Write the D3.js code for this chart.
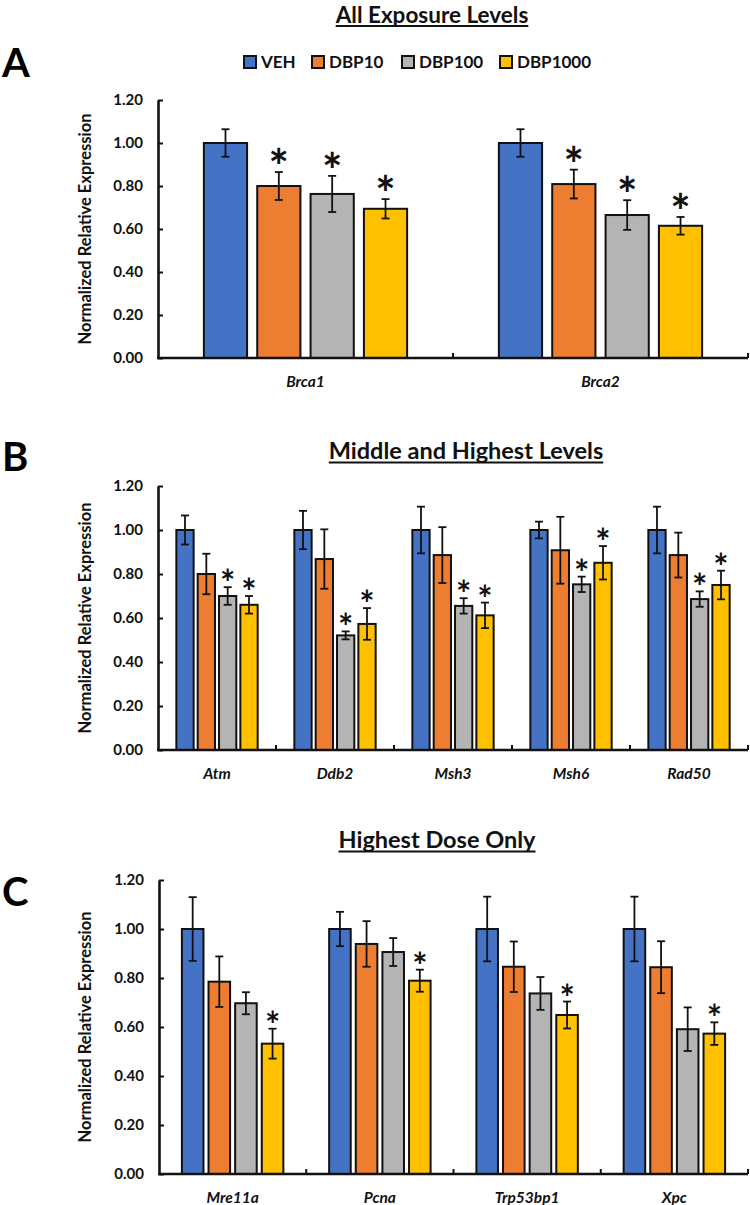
<!DOCTYPE html>
<html>
<head>
<meta charset="utf-8">
<script src="https://cdn.jsdelivr.net/npm/d3@7"></script>
<style>
  html, body { margin: 0; padding: 0; background: #fff; }
  svg { display: block; font-family: Lato, "Open Sans", sans-serif; }
</style>
</head>
<body>
<svg id="chart" width="750" height="1205"></svg>
<script>
// ---------- DATA ----------
const seriesNames = ["VEH", "DBP10", "DBP100", "DBP1000"];
const seriesColors = ["#4472C4", "#ED7D31", "#B4B4B4", "#FFC000"];
const yTickValues = [0, 0.2, 0.4, 0.6, 0.8, 1.0, 1.2];
const yTickLabels = ["0.00", "0.20", "0.40", "0.60", "0.80", "1.00", "1.20"];

// Panel A: All Exposure Levels
const genesA = ["Brca1", "Brca2"];
const meansA = [[1.00, 0.800, 0.763, 0.694], [1.00, 0.809, 0.665, 0.615]];
const errA   = [[0.064, 0.065, 0.084, 0.045], [0.064, 0.067, 0.069, 0.041]];
const sigA   = [[0, 1, 1, 1], [0, 1, 1, 1]];

// Panel B: Middle and Highest Levels
const genesB = ["Atm", "Ddb2", "Msh3", "Msh6", "Rad50"];
const meansB = [
  [1.00, 0.800, 0.700, 0.660],
  [1.00, 0.868, 0.521, 0.573],
  [1.00, 0.886, 0.655, 0.612],
  [1.00, 0.908, 0.753, 0.851],
  [1.00, 0.886, 0.686, 0.750]
];
const errB = [
  [0.066, 0.092, 0.040, 0.040],
  [0.087, 0.135, 0.018, 0.072],
  [0.106, 0.127, 0.035, 0.058],
  [0.038, 0.152, 0.035, 0.076],
  [0.106, 0.102, 0.035, 0.065]
];
const sigB = [
  [0, 0, 1, 1],
  [0, 0, 1, 1],
  [0, 0, 1, 1],
  [0, 0, 1, 1],
  [0, 0, 1, 1]
];

// Panel C: Highest Dose Only
const genesC = ["Mre11a", "Pcna", "Trp53bp1", "Xpc"];
const meansC = [
  [1.00, 0.785, 0.697, 0.532],
  [1.00, 0.939, 0.906, 0.789],
  [1.00, 0.846, 0.737, 0.649],
  [1.00, 0.844, 0.591, 0.573]
];
const errC = [
  [0.130, 0.103, 0.045, 0.061],
  [0.070, 0.093, 0.057, 0.045],
  [0.132, 0.103, 0.067, 0.055],
  [0.132, 0.106, 0.089, 0.046]
];
const sigC = [
  [0, 0, 0, 1],
  [0, 0, 0, 1],
  [0, 0, 0, 1],
  [0, 0, 0, 1]
];

const titles = ["All Exposure Levels", "Middle and Highest Levels", "Highest Dose Only"];
const panelLetters = ["A", "B", "C"];
const yAxisTitle = "Normalized Relative Expression";

// ---------- LAYOUT ----------
const svg = d3.select("#chart");
const FONT = "Lato, 'Open Sans', sans-serif";

const panels = [
  { genes: genesA, means: meansA, errs: errA, sig: sigA, title: titles[0], letter: panelLetters[0],
    x0: 158, x1: 748, yTop: 100, yBot: 358, titleX: 432, titleY: 22.5, titleSize: 22.5, letterY: 77, starSize: 48 },
  { genes: genesB, means: meansB, errs: errB, sig: sigB, title: titles[1], letter: panelLetters[1],
    x0: 158, x1: 748, yTop: 486, yBot: 750, titleX: 466, titleY: 459, titleSize: 23.5, letterY: 471, starSize: 36 },
  { genes: genesC, means: meansC, errs: errC, sig: sigC, title: titles[2], letter: panelLetters[2],
    x0: 159, x1: 748, yTop: 880, yBot: 1174, titleX: 437, titleY: 848, titleSize: 23.5, letterY: 906, starSize: 36 }
];

function drawTitle(x, y, text, size) {
  const t = svg.append("text")
    .attr("x", x).attr("y", y)
    .attr("text-anchor", "middle")
    .attr("font-family", FONT)
    .attr("font-weight", 700)
    .attr("font-size", size)
    .attr("fill", "#111")
    .text(text);
  const w = t.node().getComputedTextLength();
  svg.append("line")
    .attr("x1", x - w / 2).attr("x2", x + w / 2)
    .attr("y1", y + 3.5).attr("y2", y + 3.5)
    .attr("stroke", "#111").attr("stroke-width", 1.8);
}

panels.forEach((p) => {
  const y = d3.scaleLinear().domain([0, 1.2]).range([p.yBot, p.yTop]);
  const x = d3.scaleBand().domain(p.genes).range([p.x0, p.x1]).paddingInner(0).paddingOuter(0);
  const xs = d3.scaleBand().domain(seriesNames).range([0, x.bandwidth()])
    .paddingInner(0.19).paddingOuter(0.86);

  // title + letter
  drawTitle(p.titleX, p.titleY, p.title, p.titleSize);
  svg.append("text")
    .attr("x", 2).attr("y", p.letterY)
    .attr("font-family", FONT).attr("font-weight", 700)
    .attr("font-size", 40).attr("fill", "#000")
    .text(p.letter);

  // y axis title
  svg.append("text")
    .attr("transform", `translate(91,${(p.yTop + p.yBot) / 2}) rotate(-90)`)
    .attr("text-anchor", "middle")
    .attr("font-family", FONT).attr("font-weight", 700)
    .attr("font-size", 16.5).attr("fill", "#111")
    .text(yAxisTitle);

  // bars
  const g = svg.append("g");
  p.genes.forEach((gene, gi) => {
    const gg = g.append("g").attr("transform", `translate(${x(gene)},0)`);
    seriesNames.forEach((s, si) => {
      const v = p.means[gi][si];
      gg.append("rect")
        .attr("x", xs(s)).attr("y", y(v))
        .attr("width", xs.bandwidth()).attr("height", y(0) - y(v))
        .attr("fill", seriesColors[si])
        .attr("stroke", "#111").attr("stroke-width", 2);
    });
    // error bars
    seriesNames.forEach((s, si) => {
      const v = p.means[gi][si], e = p.errs[gi][si];
      const cx = xs(s) + xs.bandwidth() / 2;
      gg.append("line").attr("x1", cx).attr("x2", cx)
        .attr("y1", y(v + e)).attr("y2", y(v - e))
        .attr("stroke", "#111").attr("stroke-width", 1.8);
      [v + e, v - e].forEach(vv => {
        gg.append("line").attr("x1", cx - 4).attr("x2", cx + 4)
          .attr("y1", y(vv)).attr("y2", y(vv))
          .attr("stroke", "#111").attr("stroke-width", 1.8);
      });
      if (p.sig[gi][si]) {
        gg.append("text")
          .attr("x", cx).attr("y", y(v + e) + p.starSize * 0.25)
          .attr("text-anchor", "middle")
          .attr("font-family", FONT).attr("font-weight", 700)
          .attr("font-size", p.starSize).attr("fill", "#111")
          .text("*");
      }
    });
  });

  // y axis
  const yAxis = d3.axisLeft(y).tickValues(yTickValues)
    .tickFormat((d, i) => yTickLabels[i]).tickSize(-5).tickSizeOuter(0).tickPadding(14);
  const ya = svg.append("g").attr("transform", `translate(${p.x0},0)`).call(yAxis);
  ya.select(".domain").attr("stroke", "#111").attr("stroke-width", 2.6);
  ya.selectAll(".tick line").attr("stroke", "#111").attr("stroke-width", 2);
  ya.selectAll(".tick text").attr("font-family", FONT).attr("font-weight", 700)
    .attr("font-size", 15).attr("fill", "#111").attr("x", -15);

  // x axis baseline
  const xa = svg.append("g").attr("transform", `translate(0,${p.yBot})`);
  xa.append("line").attr("x1", p.x0 - 1).attr("x2", p.x1)
    .attr("y1", 0).attr("y2", 0).attr("stroke", "#111").attr("stroke-width", 2.6);
  // separator ticks at band boundaries
  const bounds = p.genes.map(gn => x(gn)).slice(1).concat([p.x1]);
  bounds.forEach(bx => {
    xa.append("line").attr("x1", bx).attr("x2", bx).attr("y1", 0).attr("y2", -5)
      .attr("stroke", "#111").attr("stroke-width", 2);
  });
  // category labels
  p.genes.forEach(gn => {
    xa.append("text")
      .attr("x", x(gn) + x.bandwidth() / 2).attr("y", 29)
      .attr("text-anchor", "middle")
      .attr("font-family", FONT).attr("font-weight", 700).attr("font-style", "italic")
      .attr("font-size", 15.5).attr("fill", "#111")
      .text(gn);
  });
});

// legend (panel A)
const legendX = [244, 312, 402, 500];
const lg = svg.append("g");
seriesNames.forEach((s, i) => {
  lg.append("rect").attr("x", legendX[i]).attr("y", 56).attr("width", 12).attr("height", 12)
    .attr("fill", seriesColors[i]).attr("stroke", "#111").attr("stroke-width", 2);
  lg.append("text").attr("x", legendX[i] + 17).attr("y", 68)
    .attr("font-family", FONT).attr("font-weight", 700).attr("font-size", 17)
    .attr("fill", "#111").text(s);
});
</script>
</body>
</html>
